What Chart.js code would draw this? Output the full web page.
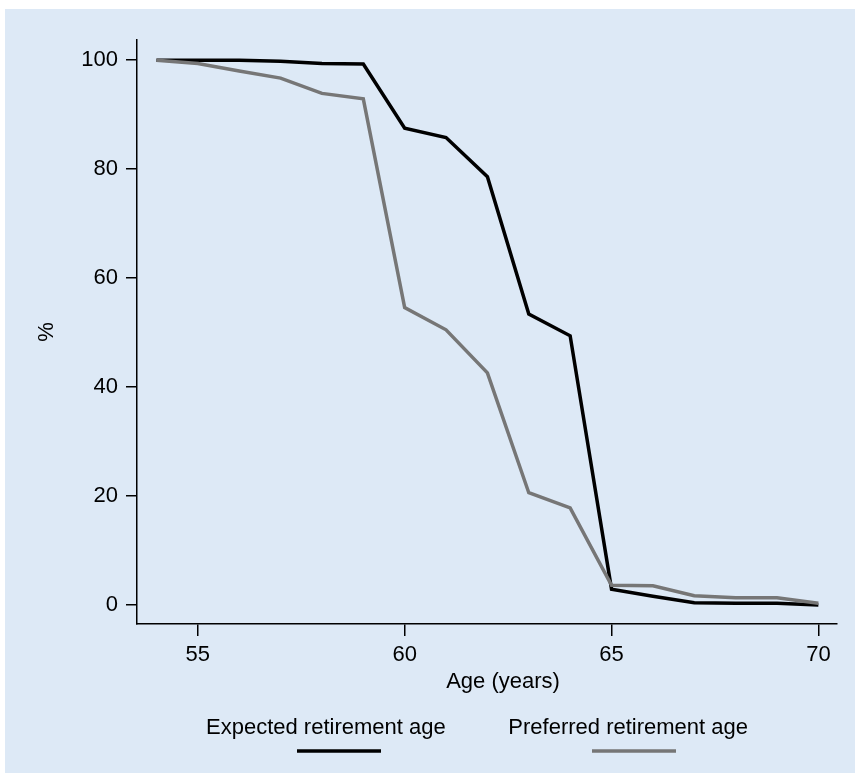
<!DOCTYPE html>
<html>
<head>
<meta charset="utf-8">
<script src="https://cdn.jsdelivr.net/npm/chart.js@4.4.0/dist/chart.umd.min.js"></script>
<style>
    body { margin: 0; background: #ffffff; }
    #box { position: absolute; left: 5px; top: 9px; width: 850px; height: 764px; background: #dde9f6; }
</style>
</head>
<body>
<div id="box"><canvas id="chartjs-0" width="850" height="764"></canvas></div>
<script>
// age in years
var ages = [54, 55, 56, 57, 58, 59, 60, 61, 62, 63, 64, 65, 66, 67, 68, 69, 70];
// % not yet retired, expected and preferred
var expected = [100, 100, 100, 99.8, 99.4, 99.3, 87.5, 85.8, 78.6, 53.4, 49.4, 2.9, 1.6, 0.4, 0.3, 0.3, 0.0];
var preferred = [100, 99.4, 98.0, 96.7, 93.9, 92.9, 54.6, 50.5, 42.6, 20.6, 17.8, 3.6, 3.5, 1.7, 1.3, 1.3, 0.3];
var xTicks = [55, 60, 65, 70];
var yTicks = [0, 20, 40, 60, 80, 100];
var seriesNames = ["Expected retirement age", "Preferred retirement age"];
var titleX = "Age (years)";
var titleY = "%";

function toPoints(vals) {
    var pts = [];
    for (var i = 0; i < ages.length; i++) {
        pts.push({ x: ages[i], y: vals[i] });
    }
    return pts;
}

var FONT = "'Liberation Sans', Arial, sans-serif";

/* stata style legend, key drawn under the label, plus x title */
var extraText = {
    id: "extraText",
    afterDraw: function (chart) {
        var c = chart.ctx;
        var ds = chart.data.datasets;
        c.save();
        c.font = "22px " + FONT;
        c.fillStyle = "#000";
        c.textBaseline = "alphabetic";
        c.textAlign = "center";
        c.fillText(titleX, 498, 679);

        c.textAlign = "left";
        c.fillText(ds[0].label, 201, 725);
        c.textAlign = "right";
        c.fillText(ds[1].label, 743, 725);

        c.lineWidth = 3.5;
        c.strokeStyle = ds[0].borderColor;
        c.beginPath(); c.moveTo(292, 742); c.lineTo(376, 742); c.stroke();
        c.strokeStyle = ds[1].borderColor;
        c.beginPath(); c.moveTo(587, 742); c.lineTo(671, 742); c.stroke();
        c.restore();
    }
};

var ctx = document.getElementById("chartjs-0");
var myChart = new Chart(ctx, {
    type: "line",
    data: {
        datasets: [{
            label: seriesNames[0],
            data: toPoints(expected),
            borderColor: "#000000",
            borderWidth: 3.5,
            pointRadius: 0,
            fill: false,
            tension: 0,
            order: 1
        }, {
            label: seriesNames[1],
            data: toPoints(preferred),
            borderColor: "#767676",
            borderWidth: 3.5,
            pointRadius: 0,
            fill: false,
            tension: 0,
            order: 0
        }]
    },
    options: {
        responsive: false,
        animation: false,
        layout: { padding: { top: 31, right: 18, left: 28.8, bottom: 79.8 } },
        plugins: {
            legend: { display: false },
            tooltip: { enabled: false }
        },
        scales: {
            x: {
                type: "linear",
                min: 53.53,
                max: 70.45,
                afterBuildTicks: function (scale) {
                    scale.ticks = xTicks.map(function (v) { return { value: v }; });
                },
                afterFit: function (scale) { scale.height = 69.2; },
                grid: { drawOnChartArea: false, color: "#000", lineWidth: 1.5, tickLength: 12 },
                border: { color: "#000", width: 1.5 },
                ticks: { color: "#000", padding: 6, maxRotation: 0, font: { family: FONT, size: 22 } }
            },
            y: {
                min: -3.5,
                max: 103.7,
                afterBuildTicks: function (scale) {
                    scale.ticks = yTicks.map(function (v) { return { value: v }; });
                },
                afterFit: function (scale) { scale.width = 103.2; },
                grid: { drawOnChartArea: false, color: "#000", lineWidth: 1.5, tickLength: 11 },
                border: { color: "#000", width: 1.5 },
                ticks: { color: "#000", padding: 8, font: { family: FONT, size: 22 } },
                title: { display: true, text: titleY, color: "#000", padding: 0, font: { family: FONT, size: 22 } }
            }
        }
    },
    plugins: [extraText]
});
</script>
</body>
</html>
